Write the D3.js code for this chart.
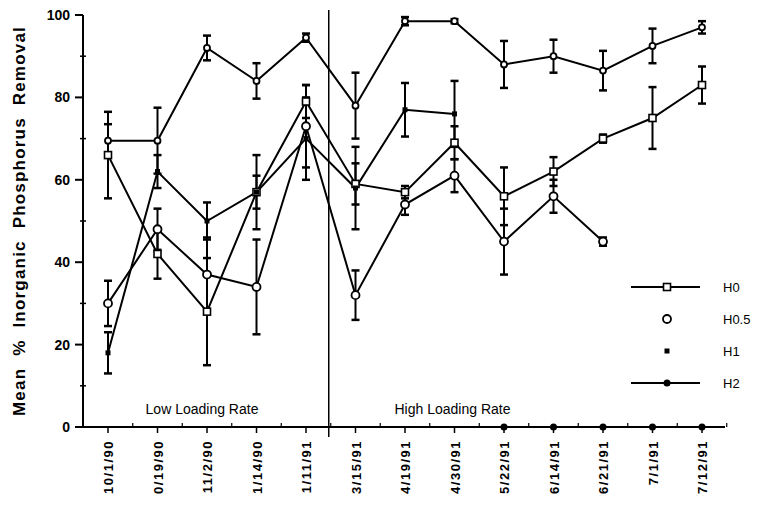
<!DOCTYPE html>
<html>
<head>
<meta charset="utf-8">
<script src="https://cdn.jsdelivr.net/npm/d3@7"></script>
<style>
  body { margin: 0; background: white; }
  text { font-family: "Liberation Sans", Arial, sans-serif; fill: black; }
</style>
</head>
<body>
<div class="chart-area"></div>
<script>
// sampling dates (labels as printed)
var dates = ["10/1/90", "0/19/90", "11/2/90", "1/14/90", "1/11/91", "3/15/91", "4/19/91",
             "4/30/91", "5/22/91", "6/14/91", "6/21/91", "7/1/91", "7/12/91"];

// mean % removal and error bar half-widths
var h0 = [66, 42, 28, 57, 79, 59, 57, 69, 56, 62, 70, 75, 83];
var h0Err = [10.5, 6, 13, 9, 4, 5, 1.5, 4, 7, 3.5, 1, 7.5, 4.5];
var h05 = [30, 48, 37, 34, 73, 32, 54, 61, 45, 56, 45, null, null];
var h05Err = [5.5, 5, 9, 11.5, 10, 6, 2.5, 4, 8, 4, 1, 0, 0];
var h1 = [18, 62, 50, 57, 70, 58, 77, 76, 0, 0, 0, 0, 0];
var h1Err = [5, 4, 4.5, 4, 10, 10, 6.5, 8, 0, 0, 0, 0, 0];
var h2 = [69.5, 69.5, 92, 84, 94.5, 78, 98.5, 98.5, 88, 90, 86.5, 92.5, 97];
var h2Err = [4, 8, 3, 4.3, 1, 8, 1, 0.5, 5.7, 4, 4.8, 4.2, 1.5];

var yTicks = [0, 20, 40, 60, 80, 100];
var legendNames = ["H0", "H0.5", "H1", "H2"];

var svg = d3.select(".chart-area").append("svg")
    .attr("width", 759)
    .attr("height", 515);

var x = d3.scalePoint().domain(dates).range([108, 702]);
var y = d3.scaleLinear().domain([0, 100]).range([427, 15]);
var step = x.step();

// axes
var yAxis = svg.append("g").attr("transform", "translate(83,0)");
yAxis.append("line").attr("y1", y(100)).attr("y2", y(0)).attr("stroke", "black").attr("stroke-width", 2);
yAxis.selectAll("line.minor")
    .data(d3.range(10, 100, 20))
    .enter().append("line")
    .attr("x1", -3).attr("x2", 3)
    .attr("y1", function(d) { return y(d); })
    .attr("y2", function(d) { return y(d); })
    .attr("stroke", "black").attr("stroke-width", 1.5);
yAxis.selectAll("line.major")
    .data(yTicks)
    .enter().append("line")
    .attr("x1", -8).attr("x2", 0)
    .attr("y1", function(d) { return y(d); })
    .attr("y2", function(d) { return y(d); })
    .attr("stroke", "black").attr("stroke-width", 2);
yAxis.selectAll("text")
    .data(yTicks)
    .enter().append("text")
    .attr("x", -13)
    .attr("y", function(d) { return y(d) + 5; })
    .attr("text-anchor", "end")
    .style("font-size", "14px")
    .style("font-weight", "bold")
    .text(function(d) { return d; });

svg.append("text")
    .attr("transform", "translate(25," + y(50) + ") rotate(-90)")
    .attr("text-anchor", "middle")
    .style("font-size", "17px")
    .style("font-weight", "bold")
    .style("letter-spacing", "1.2px")
    .style("word-spacing", "6px")
    .text("Mean % Inorganic Phosphorus Removal");

var xAxis = svg.append("g");
xAxis.append("line")
    .attr("x1", 83).attr("x2", 725)
    .attr("y1", y(0)).attr("y2", y(0))
    .attr("stroke", "black").attr("stroke-width", 2);
xAxis.selectAll("line.major")
    .data(dates)
    .enter().append("line")
    .attr("x1", function(d) { return x(d); })
    .attr("x2", function(d) { return x(d); })
    .attr("y1", y(0)).attr("y2", y(0) + 6)
    .attr("stroke", "black").attr("stroke-width", 1.5);
xAxis.selectAll("line.minor")
    .data(dates)
    .enter().append("line")
    .attr("x1", function(d) { return x(d) + step / 2; })
    .attr("x2", function(d) { return x(d) + step / 2; })
    .attr("y1", y(0) - 4).attr("y2", y(0))
    .attr("stroke", "black").attr("stroke-width", 1.2);
xAxis.selectAll("text")
    .data(dates)
    .enter().append("text")
    .attr("transform", function(d) { return "translate(" + (x(d) + 5) + "," + (y(0) + 13) + ") rotate(-90)"; })
    .attr("text-anchor", "end")
    .style("font-size", "13px")
    .style("font-weight", "bold")
    .style("letter-spacing", "1.5px")
    .text(function(d) { return d; });

// divider between loading periods
var divX = (x("1/11/91") + x("3/15/91")) / 2 - 2;
svg.append("line")
    .attr("x1", divX).attr("x2", divX)
    .attr("y1", 10).attr("y2", y(0) + 10)
    .attr("stroke", "black").attr("stroke-width", 1.5);

svg.append("text")
    .attr("x", x("11/2/90") - 5).attr("y", 414)
    .attr("text-anchor", "middle")
    .style("font-size", "14px")
    .text("Low Loading Rate");
svg.append("text")
    .attr("x", x("4/30/91") - 2).attr("y", 414)
    .attr("text-anchor", "middle")
    .style("font-size", "14px")
    .text("High Loading Rate");

// series
var series = [
    { name: "H0", values: h0, err: h0Err, marker: "square" },
    { name: "H0.5", values: h05, err: h05Err, marker: "circle" },
    { name: "H1", values: h1, err: h1Err, marker: "small" },
    { name: "H2", values: h2, err: h2Err, marker: "ring" }
];

var line = d3.line()
    .defined(function(d) { return d.v !== null && d.v > 0; })
    .x(function(d) { return x(d.date); })
    .y(function(d) { return y(d.v); });

function points(s) {
    return dates.map(function(date, i) {
        return { date: date, v: s.values[i], e: s.err[i] };
    });
}

series.forEach(function(s) {
    var pts = points(s);
    svg.append("path")
        .datum(pts)
        .attr("d", line)
        .attr("fill", "none")
        .attr("stroke", "black")
        .attr("stroke-width", 2);

    var bars = pts.filter(function(d) { return d.v !== null && d.e > 0; });
    var g = svg.append("g");
    g.selectAll("line.stem").data(bars).enter().append("line")
        .attr("x1", function(d) { return x(d.date); })
        .attr("x2", function(d) { return x(d.date); })
        .attr("y1", function(d) { return y(d.v + d.e); })
        .attr("y2", function(d) { return y(d.v - d.e); })
        .attr("stroke", "black").attr("stroke-width", 2);
    [1, -1].forEach(function(sign) {
        g.selectAll("line.cap" + sign).data(bars).enter().append("line")
            .attr("x1", function(d) { return x(d.date) - 4; })
            .attr("x2", function(d) { return x(d.date) + 4; })
            .attr("y1", function(d) { return y(d.v + sign * d.e); })
            .attr("y2", function(d) { return y(d.v + sign * d.e); })
            .attr("stroke", "black").attr("stroke-width", 2.5);
    });
});

function drawMarker(sel, type) {
    if (type === "square") {
        sel.append("rect").attr("x", -3.5).attr("y", -3.5).attr("width", 7).attr("height", 7)
            .attr("fill", "white").attr("stroke", "black").attr("stroke-width", 1.6);
    } else if (type === "circle") {
        sel.append("circle").attr("r", 4).attr("fill", "white").attr("stroke", "black").attr("stroke-width", 1.8);
    } else if (type === "small") {
        sel.append("rect").attr("x", -2.5).attr("y", -2.5).attr("width", 5).attr("height", 5)
            .attr("fill", "black");
    } else if (type === "ring") {
        sel.append("circle").attr("r", 3).attr("fill", "white").attr("stroke", "black").attr("stroke-width", 1.8);
    } else {
        sel.append("circle").attr("r", 3.5).attr("fill", "black");
    }
}

series.forEach(function(s) {
    svg.append("g").selectAll("g")
        .data(points(s).filter(function(d) { return d.v !== null; }))
        .enter().append("g")
        .attr("transform", function(d) { return "translate(" + x(d.date) + "," + y(d.v) + ")"; })
        .each(function(d) { drawMarker(d3.select(this), s.v === 0 ? "dot" : (d.v === 0 ? "dot" : s.marker)); });
});

// legend
var legendY = d3.scalePoint().domain(legendNames).range([287, 383]);
var legendMarkers = { "H0": "square", "H0.5": "circle", "H1": "small", "H2": "dot" };
var legendLines = { "H0": true, "H0.5": false, "H1": false, "H2": true };
var lg = svg.append("g").selectAll("g")
    .data(legendNames)
    .enter().append("g")
    .attr("transform", function(d) { return "translate(0," + legendY(d) + ")"; });
lg.filter(function(d) { return legendLines[d]; })
    .append("line")
    .attr("x1", 631).attr("x2", 700)
    .attr("stroke", "black").attr("stroke-width", 2);
lg.append("g")
    .attr("transform", "translate(667,0)")
    .each(function(d) { drawMarker(d3.select(this), legendMarkers[d]); });
lg.append("text")
    .attr("x", 723).attr("y", 5)
    .style("font-size", "13px")
    .text(function(d) { return d; });
</script>
</body>
</html>
